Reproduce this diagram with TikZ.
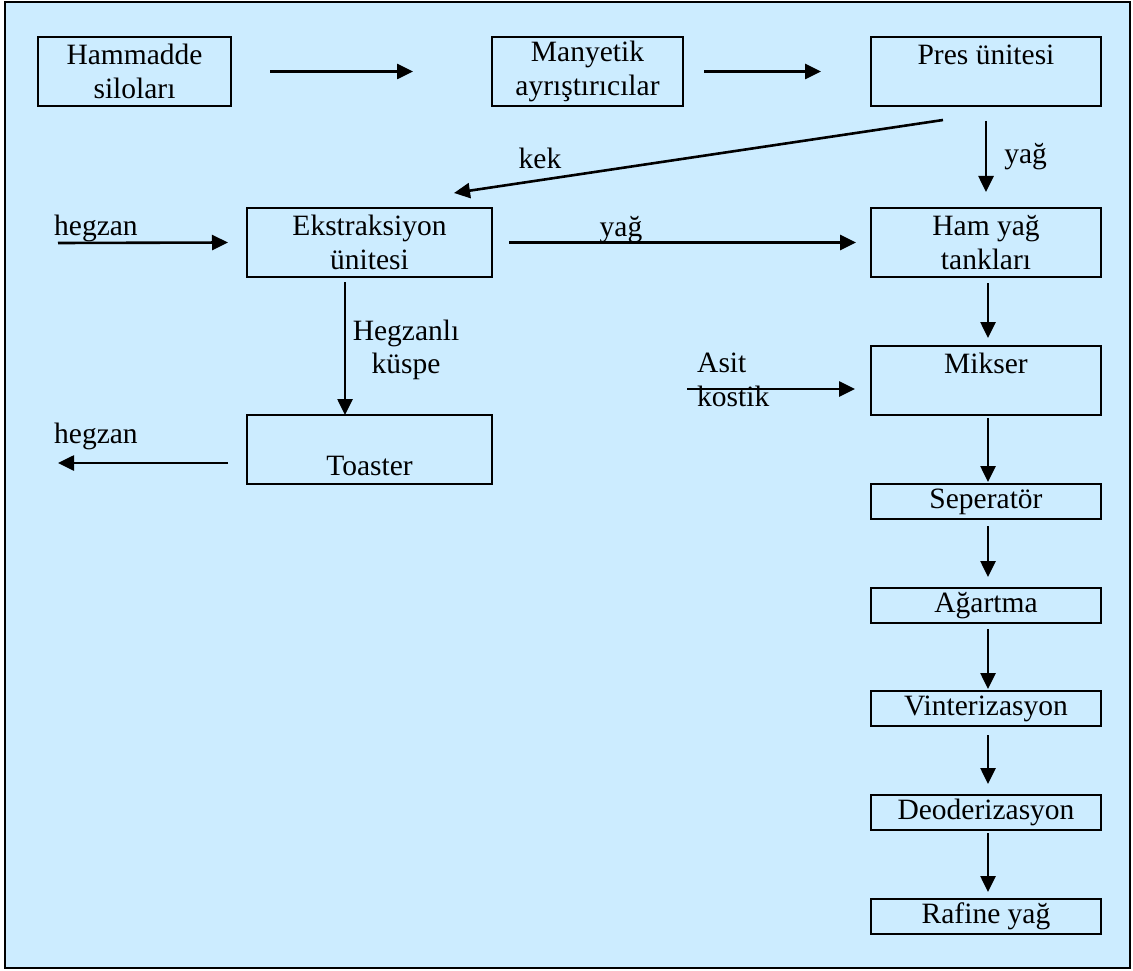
\documentclass[tikz,border=0pt]{standalone}
\usepackage{fontspec}
\setmainfont{Liberation Serif}
\usetikzlibrary{arrows.meta}
\definecolor{zemin}{RGB}{204,236,255}
\tikzset{
  kutu/.style={draw, line width=2pt, inner sep=0pt, align=center, minimum height=69pt},
  ince/.style={kutu, minimum height=35pt, minimum width=230pt},
  ok/.style={-{Triangle[length=16pt,width=15pt]}, line width=2.6pt},
  yazi/.style={inner sep=0pt, align=left}
}
\begin{document}
\begin{tikzpicture}[x=1pt, y=-1pt, font=\fontsize{29.5}{33.5}\selectfont]
\useasboundingbox (0,0) rectangle (1133,971);
\draw[fill=zemin, line width=2.5pt] (5,2) rectangle (1130,968);
% ust sira
\node[kutu, minimum width=193pt] (hammadde) at (134.5,71.5) {Hammadde\\siloları};
\node[kutu, minimum width=191pt] (manyetik) at (587.5,71.5) {Manyetik\\ayrıştırıcılar};
\node[kutu, minimum width=230pt] (pres) at (986,71.5) {Pres ünitesi\\~};
\draw[ok] ([xshift=38pt]hammadde.east) -- ([xshift=-78pt]manyetik.west);
\draw[ok] ([xshift=20pt]manyetik.east) -- ([xshift=-49pt]pres.west);
% sol kol
\node[kutu, minimum width=245pt] (ekstraksiyon) at (369.5,242.5) {Ekstraksiyon\\ünitesi};
\node[kutu, minimum width=245pt] (toaster) at (369.5,449.5) {~\\[18pt]Toaster};
\draw[ok] ([shift={(-43pt,-13pt)}]pres.south) -- ([shift={(84.5pt,14pt)}]ekstraksiyon.north);
\node[yazi] (kek) at (540,158) {kek};
\coordinate (hegzangiris) at (58,243);
\draw[ok] (hegzangiris) -- ([xshift=-18pt]ekstraksiyon.west);
\node[yazi, anchor=base west] (hegzan1) at (54,235) {hegzan};
\draw[ok] ([shift={(-24.5pt,-4pt)}]ekstraksiyon.south) -- ([shift={(-24.5pt,-1pt)}]toaster.north);
\node[yazi, align=center] (kuspe) at (406,350) {Hegzanlı\\küspe};
\coordinate (hegzancikis) at (58,463);
\draw[ok] ([shift={(-18pt,-13.5pt)}]toaster.west) -- (hegzancikis);
\node[yazi, anchor=base west] (hegzan2) at (54,443) {hegzan};
% sag kol
\node[kutu, minimum width=230pt] (hamyag) at (986,242.5) {Ham yağ\\tankları};
\node[kutu, minimum width=230pt] (mikser) at (986,380.5) {Mikser\\~};
\draw[ok] ([yshift=-14pt]pres.south) -- node[yazi, right=17pt] (yag1) {yağ} ([yshift=15pt]hamyag.north);
\draw[ok] ([xshift=16pt]ekstraksiyon.east) -- ([xshift=-14pt]hamyag.west);
\node[yazi, anchor=base] (yag2) at (621,236) {yağ};
\draw[ok] ([shift={(2pt,-5pt)}]hamyag.south) -- ([shift={(2pt,7pt)}]mikser.north);
\coordinate (asitgiris) at (687,389);
\draw[ok] (asitgiris) -- ([shift={(-15pt,-8.5pt)}]mikser.west);
\node[yazi, anchor=north west] (asit) at (697,353) {Asit\\kostik};
% rafinasyon
\node[ince] (seperator) at (986,501.5) {Seperatör};
\node[ince] (agartma) at (986,605.5) {Ağartma};
\node[ince] (vinter) at (986,708.5) {Vinterizasyon};
\node[ince] (deoder) at (986,812.5) {Deoderizasyon};
\node[ince] (rafine) at (986,916.5) {Rafine yağ};
\draw[ok] ([shift={(2pt,-2pt)}]mikser.south) -- ([shift={(2pt,1pt)}]seperator.north);
\draw[ok] ([shift={(2pt,-6pt)}]seperator.south) -- ([shift={(2pt,10pt)}]agartma.north);
\draw[ok] ([shift={(2pt,-5pt)}]agartma.south) -- ([shift={(2pt,1pt)}]vinter.north);
\draw[ok] ([shift={(2pt,-8pt)}]vinter.south) -- ([shift={(2pt,10pt)}]deoder.north);
\draw[ok] ([shift={(2pt,-2pt)}]deoder.south) -- ([shift={(2pt,6pt)}]rafine.north);
\end{tikzpicture}
\end{document}
